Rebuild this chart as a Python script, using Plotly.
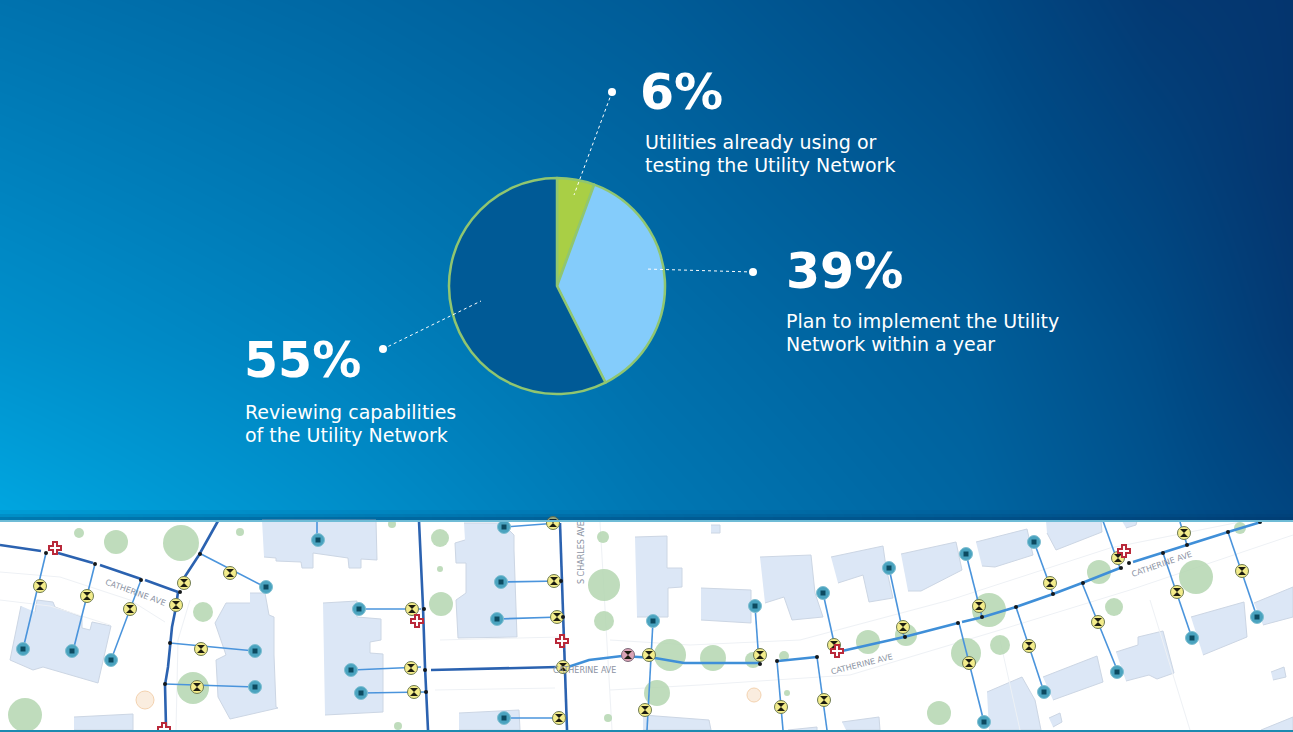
"""Utility Network adoption infographic: pie with callouts over a network map strip."""
import plotly.graph_objects as go

W, H = 1293, 732
MAP_TOP = 520

# pie shares as drawn in the picture (the printed labels round them differently)
pie_labels = ["Already using or testing", "Plan to implement", "Reviewing capabilities"]
pie_values = [5.6, 37.0, 57.4]
pie_colors = ["#a9cf45", "#84ccfb", "#005a96"]

big_text = ["6%", "39%", "55%"]
big_x = [640, 786, 244]
big_y = [97, 276, 365]

small_text = ["Utilities already using or", "testing the Utility Network",
              "Plan to implement the Utility", "Network within a year",
              "Reviewing capabilities", "of the Utility Network"]
small_x = [645, 645, 786, 786, 245, 245]
small_y = [144, 167, 323, 346, 414, 437]

# leader lines: dot end, then pie end
leader_x0 = [612, 753, 383]
leader_y0 = [92, 272, 349]
leader_x1 = [574, 645, 481]
leader_y1 = [195, 269, 301]

# background gradient, 0 = darkest, 1 = brightest
bg_x = [0, 325, 650, 970, 1150, 1293]
bg_y = [0, 170, 340, 515, 519]
bg_z = [[.58, .50, .40, .25, .08, .03],
        [.70, .60, .48, .33, .18, .03],
        [.82, .70, .55, .42, .27, .08],
        [1.0, .82, .62, .48, .33, .20],
        [1.0, .82, .62, .48, .33, .20]]

# map strip
buildings = [
    [(21, 606), (10, 660), (33, 670), (43, 667), (98, 683), (111, 626), (92, 622), (90, 630), (82, 628), (82, 617), (55, 607), (53, 602), (37, 600), (35, 612)],
    [(262, 520), (376, 520), (377, 560), (361, 559), (361, 568), (349, 568), (348, 558), (313, 553), (313, 568), (302, 568), (301, 562), (276, 561), (276, 558), (264, 557)],
    [(250, 593), (265, 593), (269, 615), (274, 617), (274, 655), (276, 707), (278, 708), (230, 719), (218, 697), (216, 660), (226, 655), (215, 623), (226, 603), (250, 603)],
    [(323, 603), (357, 601), (357, 617), (381, 619), (381, 640), (370, 642), (370, 653), (383, 654), (383, 712), (325, 715)],
    [(464, 523), (502, 523), (514, 535), (514, 550), (517, 637), (458, 638), (456, 600), (466, 593), (466, 563), (456, 563), (455, 543), (465, 540)],
    [(459, 713), (519, 710), (520, 730), (459, 730)],
    [(74, 717), (133, 714), (133, 730), (74, 730)],
    [(635, 537), (667, 536), (667, 568), (682, 568), (682, 587), (668, 588), (668, 617), (637, 617)],
    [(701, 588), (751, 590), (751, 623), (701, 620)],
    [(760, 557), (811, 555), (815, 593), (823, 617), (792, 620), (784, 597), (765, 603)],
    [(831, 557), (883, 546), (886, 567), (893, 598), (869, 602), (863, 575), (838, 583)],
    [(901, 554), (956, 542), (962, 570), (921, 591), (908, 591)],
    [(976, 542), (1027, 529), (1033, 555), (995, 567), (982, 566)],
    [(1046, 521), (1101, 521), (1102, 532), (1056, 550), (1047, 533)],
    [(1122, 521), (1137, 521), (1136, 525), (1126, 528)],
    [(1191, 617), (1244, 602), (1247, 637), (1203, 655)],
    [(1254, 603), (1293, 587), (1293, 617), (1263, 625)],
    [(1043, 677), (1097, 656), (1103, 682), (1053, 700)],
    [(1116, 652), (1138, 645), (1138, 637), (1163, 631), (1174, 673), (1157, 679), (1149, 675), (1126, 681)],
    [(987, 692), (1022, 677), (1035, 700), (1041, 730), (989, 730)],
    [(643, 715), (709, 720), (711, 730), (643, 730)],
    [(842, 722), (879, 717), (880, 730), (846, 730)],
    [(711, 525), (720, 525), (720, 533), (711, 533)],
    [(1049, 718), (1060, 713), (1062, 722), (1053, 727)],
    [(1271, 672), (1284, 667), (1286, 677), (1273, 680)],
    [(788, 730), (817, 727), (817, 730)],
    [(1261, 730), (1293, 717), (1293, 730)],
]

street_edges = [
    [(0, 572), (60, 577), (130, 600), (165, 622)],
    [(0, 600), (50, 606), (110, 625)],
    [(190, 600), (178, 640), (176, 730)],
    [(440, 640), (560, 637)],
    [(435, 690), (555, 688)],
    [(610, 690), (700, 685), (850, 675), (1000, 630), (1130, 590), (1293, 535)],
    [(610, 640), (690, 645), (800, 640), (950, 600), (1110, 548), (1240, 522)],
    [(600, 522), (612, 730)],
    [(1000, 640), (1020, 730)],
    [(1150, 600), (1190, 730)],
]

tree_x = [79, 116, 181, 240, 203, 193, 25, 440, 440, 441, 603, 604, 604, 608, 392, 398,
          670, 713, 753, 784, 657, 787, 868, 906, 989, 966, 1000, 939, 1099, 1114, 1196, 1240]
tree_y = [533, 542, 543, 532, 612, 688, 715, 538, 569, 604, 537, 585, 621, 718, 524, 726,
          655, 658, 660, 656, 693, 693, 642, 635, 610, 653, 645, 713, 572, 607, 577, 528]
tree_d = [10, 24, 36, 8, 20, 32, 34, 18, 6, 24, 12, 32, 20, 8, 8, 8,
          32, 26, 16, 10, 26, 6, 24, 22, 34, 30, 20, 24, 24, 18, 34, 12]
tree_orange_x = [145, 754]
tree_orange_y = [700, 695]

main_dark = [
    [(0, 545), (41, 551)], [(58, 553), (93, 563)], [(100, 565), (141, 579)], [(145, 580), (178, 592)],
    [(184, 578), (199, 555), (218, 521)], [(178, 592), (176, 607), (172, 627), (168, 667), (165, 685), (166, 727)],
    [(419, 521), (423, 607), (425, 667), (428, 730)], [(560, 523), (563, 613), (565, 667), (567, 730)],
    [(431, 670), (558, 667)],
]
main_light = [
    [(568, 667), (589, 660), (622, 656), (655, 658), (684, 663), (722, 663), (759, 663)],
    [(778, 661), (817, 657)],
    [(842, 651), (904, 637), (958, 623)],
    [(962, 622), (983, 617), (1016, 607), (1053, 594), (1082, 583), (1120, 568)],
    [(1133, 562), (1161, 553), (1186, 545), (1228, 532), (1261, 522)],
]
service_lines = [
    [(46, 553), (23, 649)], [(95, 564), (73, 651)], [(141, 580), (111, 660)], [(201, 554), (265, 587)],
    [(170, 643), (255, 651)], [(165, 684), (255, 687)], [(317, 521), (317, 540)], [(359, 609), (421, 609)],
    [(352, 670), (421, 667)], [(361, 693), (425, 692)], [(504, 527), (558, 523)], [(502, 582), (560, 581)],
    [(497, 619), (560, 617)], [(504, 718), (564, 718)], [(653, 621), (647, 730)], [(755, 606), (759, 663)],
    [(777, 661), (783, 730)], [(823, 593), (835, 647)], [(817, 657), (827, 730)], [(889, 568), (904, 637)],
    [(966, 554), (982, 617)], [(959, 623), (984, 722)], [(1034, 542), (1053, 594)], [(1016, 607), (1044, 692)],
    [(1103, 521), (1120, 568)], [(1082, 583), (1118, 672)], [(1163, 553), (1192, 638)], [(1180, 522), (1187, 545)],
    [(1228, 532), (1257, 617)],
]

meter_x = [40, 87, 130, 184, 176, 230, 201, 197, 412, 411, 414, 553, 554, 557, 563, 559,
           649, 645, 760, 781, 824, 834, 903, 969, 979, 1029, 1050, 1098, 1118, 1177, 1184, 1242]
meter_y = [586, 596, 609, 583, 605, 573, 649, 687, 609, 668, 692, 523, 581, 617, 667, 718,
           655, 710, 655, 707, 700, 645, 627, 663, 606, 646, 583, 622, 558, 592, 533, 571]
pink_meter_x = [628]
pink_meter_y = [655]

house_x = [23, 72, 111, 266, 255, 255, 318, 359, 351, 361, 504, 501, 497, 504,
           653, 755, 823, 889, 966, 1034, 1044, 1117, 984, 1192, 1257]
house_y = [649, 651, 660, 587, 651, 687, 540, 609, 670, 693, 527, 582, 619, 718,
           621, 606, 593, 568, 554, 542, 692, 672, 722, 638, 617]

valve_x = [55, 417, 562, 1124, 837, 164]
valve_y = [548, 621, 641, 551, 651, 729]

junction_x = [46, 95, 141, 180, 200, 170, 165, 424, 425, 426, 561, 563, 760, 777, 817, 905,
              958, 982, 1016, 1053, 1083, 1121, 1129, 1163, 1187, 1228, 1260]
junction_y = [553, 564, 580, 592, 554, 643, 684, 609, 670, 692, 581, 617, 664, 661, 657, 637,
              623, 617, 607, 594, 583, 568, 563, 553, 545, 532, 522]

street_names = ["CATHERINE AVE", "CATHERINE AVE", "CATHERINE AVE", "CATHERINE AVE", "S CHARLES AVE"]
street_name_x = [135, 584, 861, 1161, 581]
street_name_y = [592, 670, 664, 564, 553]
street_name_angle = [20, 0, -14, -19, -90]


def unpack(paths):
    xs, ys = [], []
    for path in paths:
        xs += [p[0] for p in path] + [None]
        ys += [p[1] for p in path] + [None]
    return xs, ys


fig = go.Figure()

fig.add_trace(go.Heatmap(
    x=bg_x, y=bg_y, z=bg_z, zmin=0, zmax=1, zsmooth="best", showscale=False, hoverinfo="skip",
    colorscale=[[0, "#05326b"], [0.25, "#004a85"], [0.5, "#0068a4"], [0.75, "#0088c4"], [1, "#00a6e0"]],
))

# map layers, back to front
for path in buildings:
    fig.add_trace(go.Scatter(
        x=[p[0] for p in path], y=[p[1] for p in path], mode="lines", fill="toself",
        fillcolor="#dce7f6", line=dict(color="#ccd6e4", width=1), hoverinfo="skip",
    ))

xs, ys = unpack(street_edges)
fig.add_trace(go.Scatter(x=xs, y=ys, mode="lines", line=dict(color="#eef1f5", width=1), hoverinfo="skip"))

fig.add_trace(go.Scatter(
    x=tree_x, y=tree_y, mode="markers", hoverinfo="skip",
    marker=dict(size=tree_d, color="#b4d6b0", opacity=0.85, line=dict(width=0)),
))
fig.add_trace(go.Scatter(
    x=tree_orange_x, y=tree_orange_y, mode="markers", hoverinfo="skip",
    marker=dict(size=[18, 14], color="#f9e6d2", line=dict(color="#efc08f", width=1)),
))

xs, ys = unpack(service_lines)
fig.add_trace(go.Scatter(x=xs, y=ys, mode="lines", line=dict(color="#4a94dc", width=1.6), hoverinfo="skip"))
xs, ys = unpack(main_dark)
fig.add_trace(go.Scatter(x=xs, y=ys, mode="lines", line=dict(color="#2b62b0", width=2.6), hoverinfo="skip"))
xs, ys = unpack(main_light)
fig.add_trace(go.Scatter(x=xs, y=ys, mode="lines", line=dict(color="#3f8fd8", width=2.6), hoverinfo="skip"))

fig.add_trace(go.Scatter(
    x=house_x, y=house_y, mode="markers", hoverinfo="skip",
    marker=dict(size=13, color="#4aa3bf", line=dict(color="#7fbfd2", width=1)),
))
fig.add_trace(go.Scatter(
    x=house_x, y=house_y, mode="markers", hoverinfo="skip",
    marker=dict(size=5, color="#0c4a60", symbol="square"),
))
fig.add_trace(go.Scatter(
    x=meter_x, y=meter_y, mode="markers", hoverinfo="skip",
    marker=dict(size=13, color="#f3ec8a", line=dict(color="#6d7a52", width=1)),
))
fig.add_trace(go.Scatter(
    x=pink_meter_x, y=pink_meter_y, mode="markers", hoverinfo="skip",
    marker=dict(size=13, color="#dba3b5", line=dict(color="#7d6a7a", width=1)),
))
fig.add_trace(go.Scatter(
    x=meter_x + pink_meter_x, y=meter_y + pink_meter_y, mode="markers", hoverinfo="skip",
    marker=dict(size=8, color="#1c1c10", symbol="hourglass"),
))
fig.add_trace(go.Scatter(
    x=valve_x, y=valve_y, mode="markers", hoverinfo="skip",
    marker=dict(size=10, color="white", symbol="cross", line=dict(color="#b9293a", width=2)),
))
fig.add_trace(go.Scatter(
    x=junction_x, y=junction_y, mode="markers", hoverinfo="skip",
    marker=dict(size=4, color="#14181c"),
))

# headline numbers and captions
fig.add_trace(go.Scatter(
    x=big_x, y=big_y, text=big_text, mode="text", textposition="middle right", hoverinfo="skip",
    textfont=dict(family="DejaVu Sans", size=49, color="white", weight="bold"),
))
fig.add_trace(go.Scatter(
    x=small_x, y=small_y, text=small_text, mode="text", textposition="middle right", hoverinfo="skip",
    textfont=dict(family="DejaVu Sans", size=19, color="white"),
))

fig.add_trace(go.Pie(
    labels=pie_labels, values=pie_values, sort=False, direction="clockwise", rotation=0,
    textinfo="none", hoverinfo="label+percent",
    marker=dict(colors=pie_colors, line=dict(color="#90c670", width=2.5)),
    domain=dict(x=[449 / W, 665 / W], y=[1 - 394 / H, 1 - 178 / H]),
))

shapes = [
    dict(type="rect", xref="x", yref="y", x0=0, x1=W, y0=510, y1=514, fillcolor="rgba(0,50,100,0.08)", line_width=0),
    dict(type="rect", xref="x", yref="y", x0=0, x1=W, y0=514, y1=517, fillcolor="rgba(0,50,100,0.2)", line_width=0),
    dict(type="rect", xref="x", yref="y", x0=0, x1=W, y0=517, y1=MAP_TOP, fillcolor="rgba(0,50,100,0.38)", line_width=0),
    dict(type="rect", xref="x", yref="y", x0=0, x1=W, y0=MAP_TOP, y1=MAP_TOP + 2, fillcolor="#6fbcd6", line_width=0),
    dict(type="rect", xref="x", yref="y", x0=0, x1=W, y0=730, y1=H, fillcolor="#1c8ab0", line_width=0),
]
for x0, y0, x1, y1 in zip(leader_x0, leader_y0, leader_x1, leader_y1):
    shapes.append(dict(type="line", xref="x", yref="y", x0=x0, y0=y0, x1=x1, y1=y1,
                       line=dict(color="white", width=1, dash="dot"), layer="above"))
    shapes.append(dict(type="circle", xref="x", yref="y", x0=x0 - 4, x1=x0 + 4, y0=y0 - 4, y1=y0 + 4,
                       fillcolor="white", line_width=0, layer="above"))

annotations = [
    dict(x=x, y=y, text=t, textangle=a, xref="x", yref="y", showarrow=False,
         font=dict(family="DejaVu Sans", size=8, color="#8b93a3"))
    for t, x, y, a in zip(street_names, street_name_x, street_name_y, street_name_angle)
]

fig.update_layout(
    width=W, height=H, margin=dict(l=0, r=0, t=0, b=0), showlegend=False,
    paper_bgcolor="white", plot_bgcolor="white", shapes=shapes, annotations=annotations,
    xaxis=dict(range=[0, W], visible=False, fixedrange=True),
    yaxis=dict(range=[H, 0], visible=False, fixedrange=True),
)

# page body has a default margin that would push the figure off the window
fig.write_html("out.html", config={"displayModeBar": False},
               post_script="document.body.style.margin='0';document.body.style.overflow='hidden';")
